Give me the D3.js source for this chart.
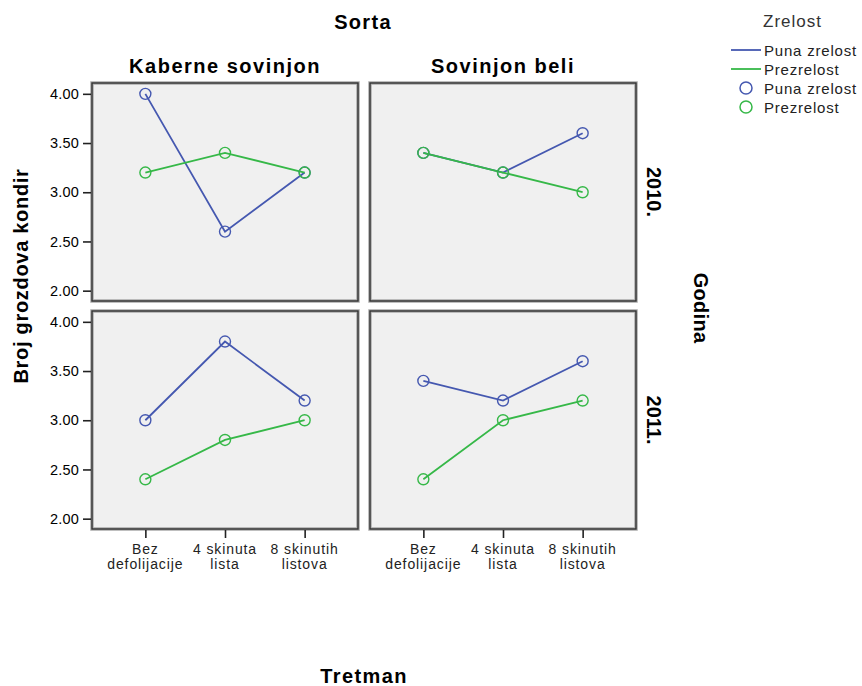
<!doctype html>
<head>
<style>
  body { margin: 0; background: #fff; font-family: Arial, Helvetica, sans-serif; }
  svg text { fill: #000; }
</style>
<script src="https://cdnjs.cloudflare.com/ajax/libs/d3/7.8.5/d3.min.js"></script>
</head>
<body>
<script>
// data
var sorte = ["Kaberne sovinjon", "Sovinjon beli"];
var godine = ["2010.", "2011."];
var tretmani = ["Bez defolijacije", "4 skinuta lista", "8 skinutih listova"];
var tretmanLabels = [["Bez", "defolijacije"], ["4 skinuta", "lista"], ["8 skinutih", "listova"]];
var zrelost = ["Puna zrelost", "Prezrelost"];
var yTicks = [2.0, 2.5, 3.0, 3.5, 4.0];

// values[godina][sorta][zrelost]
var punaZrelost = [
  [[4.0, 2.6, 3.2], [3.4, 3.2, 3.6]],
  [[3.0, 3.8, 3.2], [3.4, 3.2, 3.6]]
];
var prezrelost = [
  [[3.2, 3.4, 3.2], [3.4, 3.2, 3.0]],
  [[2.4, 2.8, 3.0], [2.4, 3.0, 3.2]]
];

var colors = ["#4558b0", "#36b848"];

var W = 862, H = 686;
var svg = d3.select("body").append("svg").attr("width", W).attr("height", H);

var panelW = 266, panelH = 218;
var panelX = [92, 370];
var panelY = [83, 311];

var x = d3.scalePoint().domain(tretmani).range([0, panelW]).padding(0.67);
var y = d3.scaleLinear().domain([1.895, 4.11]).range([panelH, 0]);

var line = d3.line()
  .x(function(d, i) { return x(tretmani[i]); })
  .y(function(d) { return y(d); });

godine.forEach(function(g, gi) {
  sorte.forEach(function(s, si) {
    var p = svg.append("g").attr("transform", "translate(" + panelX[si] + "," + panelY[gi] + ")");
    p.append("rect")
      .attr("width", panelW).attr("height", panelH)
      .attr("fill", "#f0f0f0")
      .attr("stroke", "#aaa").attr("stroke-width", 3.5);
    p.append("rect")
      .attr("width", panelW).attr("height", panelH)
      .attr("fill", "none")
      .attr("stroke", "#333").attr("stroke-width", 1.4);

    var series = [punaZrelost[gi][si], prezrelost[gi][si]];
    series.forEach(function(vals, k) {
      p.append("path")
        .datum(vals)
        .attr("d", line)
        .attr("fill", "none")
        .attr("stroke", colors[k])
        .attr("stroke-width", 1.8);
    });
    series.forEach(function(vals, k) {
      p.selectAll(".pt" + k)
        .data(vals).enter()
        .append("circle")
          .attr("cx", function(d, i) { return x(tretmani[i]); })
          .attr("cy", function(d) { return y(d); })
          .attr("r", 5.5)
          .attr("fill", "none")
          .attr("stroke", colors[k])
          .attr("stroke-width", 1.4);
    });

    if (si == 0) {
      var ya = p.append("g").attr("transform", "translate(-1,0)")
        .call(d3.axisLeft(y).tickValues(yTicks).tickSize(8).tickFormat(d3.format(".2f")));
      ya.select(".domain").remove();
      ya.selectAll("line").attr("stroke", "#222").attr("stroke-width", 1.6);
      ya.selectAll("text").attr("font-size", 14.5).attr("fill", "#222")
        .attr("font-family", "Arial, Helvetica, sans-serif")
        .attr("letter-spacing", 0.2).attr("dx", "-1");
    }
    if (gi == 1) {
      var xa = p.append("g").attr("transform", "translate(0," + (panelH + 1) + ")")
        .call(d3.axisBottom(x).tickSize(8).tickFormat(""));
      xa.select(".domain").remove();
      xa.selectAll("line").attr("stroke", "#222").attr("stroke-width", 1.6);
      tretmani.forEach(function(t, i) {
        var tx = p.append("text")
          .attr("x", x(t))
          .attr("y", panelH + 25)
          .attr("text-anchor", "middle")
          .attr("font-size", 14)
          .attr("letter-spacing", 0.9)
          .style("fill", "#222");
        tretmanLabels[i].forEach(function(part, j) {
          tx.append("tspan").attr("x", x(t)).attr("dy", j == 0 ? 0 : 14.5).text(part);
        });
      });
    }
  });
});

// titles
svg.append("text").attr("x", 363).attr("y", 29).attr("text-anchor", "middle")
  .attr("font-size", 20).attr("font-weight", "bold").attr("letter-spacing", 1.3).text("Sorta");
sorte.forEach(function(s, si) {
  svg.append("text").attr("x", panelX[si] + panelW / 2).attr("y", 73)
    .attr("text-anchor", "middle").attr("font-size", 20).attr("font-weight", "bold")
    .attr("letter-spacing", 1.5).text(s);
});
godine.forEach(function(g, gi) {
  svg.append("text")
    .attr("transform", "translate(647," + (panelY[gi] + panelH / 2) + ") rotate(90)")
    .attr("text-anchor", "middle").attr("font-size", 20).attr("font-weight", "bold").text(g);
});
svg.append("text")
  .attr("transform", "translate(694,308) rotate(90)")
  .attr("text-anchor", "middle").attr("font-size", 20).attr("font-weight", "bold")
  .attr("letter-spacing", 0.3).text("Godina");
svg.append("text")
  .attr("transform", "translate(28,276) rotate(-90)")
  .attr("text-anchor", "middle").attr("font-size", 20).attr("font-weight", "bold")
  .attr("letter-spacing", 0.7).text("Broj grozdova kondir");
svg.append("text").attr("x", 364).attr("y", 683).attr("text-anchor", "middle")
  .attr("font-size", 20).attr("font-weight", "bold").attr("letter-spacing", 1.4).text("Tretman");

// legend
var lg = svg.append("g");
lg.append("text").attr("x", 763).attr("y", 27).attr("font-size", 17)
  .attr("letter-spacing", 1).style("fill", "#333").text("Zrelost");
zrelost.forEach(function(z, k) {
  var yy = 50 + k * 19;
  lg.append("line").attr("x1", 731).attr("x2", 761).attr("y1", yy).attr("y2", yy)
    .attr("stroke", colors[k]).attr("stroke-width", 1.8);
  lg.append("text").attr("x", 764).attr("y", yy + 6).attr("font-size", 15)
    .attr("letter-spacing", 0.8).style("fill", "#222").text(z);
});
zrelost.forEach(function(z, k) {
  var yy = 88 + k * 19;
  lg.append("circle").attr("cx", 746).attr("cy", yy).attr("r", 6)
    .attr("fill", "none").attr("stroke", colors[k]).attr("stroke-width", 1.5);
  lg.append("text").attr("x", 764).attr("y", yy + 6).attr("font-size", 15)
    .attr("letter-spacing", 0.8).style("fill", "#222").text(z);
});
</script>
</body>
